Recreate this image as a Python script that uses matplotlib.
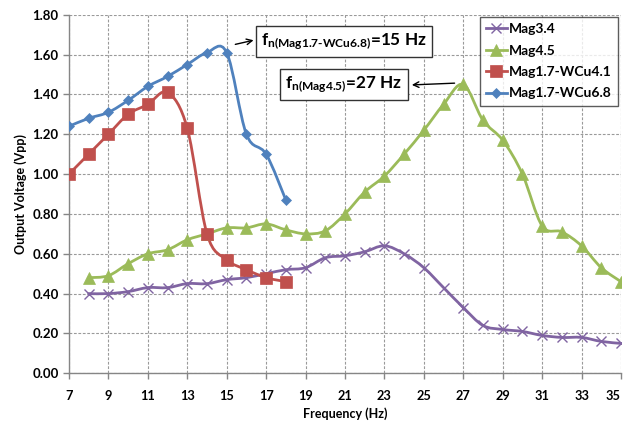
import numpy as np
import matplotlib
matplotlib.use("Agg")
import matplotlib.pyplot as plt
from matplotlib.path import Path
from matplotlib.patches import PathPatch
from matplotlib.lines import Line2D

plt.rcParams['font.family'] = ['Lato', 'DejaVu Sans']
plt.rcParams['font.weight'] = 'bold'
plt.rcParams['mathtext.fontset'] = 'custom'
plt.rcParams['mathtext.rm'] = 'Lato:bold'
plt.rcParams['mathtext.it'] = 'Lato:bold'
plt.rcParams['mathtext.bf'] = 'Lato:bold'

# ---- data ----
freq_mag34 = list(range(8, 36))
mag34 = [0.40, 0.40, 0.41, 0.43, 0.43, 0.45, 0.45, 0.47, 0.48, 0.50, 0.52,
         0.53, 0.58, 0.59, 0.61, 0.64, 0.60, 0.53, 0.43, 0.33, 0.24, 0.22,
         0.21, 0.19, 0.18, 0.18, 0.16, 0.15]
freq_mag45 = list(range(8, 36))
mag45 = [0.48, 0.49, 0.55, 0.60, 0.62, 0.67, 0.70, 0.73, 0.73, 0.75, 0.72,
         0.70, 0.715, 0.80, 0.91, 0.99, 1.10, 1.22, 1.35, 1.45, 1.27, 1.17,
         1.00, 0.74, 0.71, 0.64, 0.53, 0.46]
freq_wcu41 = list(range(7, 19))
wcu41 = [1.00, 1.10, 1.20, 1.30, 1.35, 1.41, 1.23, 0.70, 0.57, 0.52, 0.48, 0.46]
freq_wcu68 = list(range(7, 19))
wcu68 = [1.24, 1.28, 1.31, 1.37, 1.44, 1.49, 1.55, 1.61, 1.61, 1.20, 1.10, 0.87]

series = [
    ("Mag3.4", freq_mag34, mag34, "#8064A2", "x", 7.5, 1.0),
    ("Mag4.5", freq_mag45, mag45, "#9BBB59", "^", 8, 0),
    ("Mag1.7-WCu4.1", freq_wcu41, wcu41, "#C0504D", "s", 8, 0),
    ("Mag1.7-WCu6.8", freq_wcu68, wcu68, "#4F81BD", "D", 5.5, 0),
]

xticks = list(range(7, 36, 2))
yticks = [0.0, 0.2, 0.4, 0.6, 0.8, 1.0, 1.2, 1.4, 1.6, 1.8]


def smooth_path(x, y):
    p = np.column_stack([x, y]).astype(float)
    n = len(p)
    verts = [p[0]]
    codes = [Path.MOVETO]
    for i in range(n - 1):
        p0 = p[i - 1] if i > 0 else p[i]
        p1 = p[i]
        p2 = p[i + 1]
        p3 = p[i + 2] if i + 2 < n else p[i + 1]
        c1 = p1 + (p2 - p0) / 6.0
        c2 = p2 - (p3 - p1) / 6.0
        verts += [c1, c2, p2]
        codes += [Path.CURVE4] * 3
    return Path(verts, codes)


fig = plt.figure(figsize=(6.27, 4.24), dpi=100)
ax = fig.add_axes([0.110, 0.1196, 0.8804, 0.8457])

handles = []
for name, xs, ys, col, mk, ms, mew in series:
    patch = PathPatch(smooth_path(xs, ys), facecolor='none', edgecolor=col,
                      lw=2.0, zorder=3, capstyle='round', joinstyle='round')
    ax.add_patch(patch)
    ax.plot(xs, ys, linestyle='none', marker=mk, ms=ms, color=col,
            mec=col, mew=(mew if mk == 'x' else 0.5), zorder=4)
    handles.append(Line2D([], [], color=col, lw=2.0, marker=mk, ms=ms,
                          mew=(mew if mk == 'x' else 0.5), mec=col))

ax.set_xlim(7, 35)
ax.set_ylim(0, 1.8)
ax.set_xticks(xticks)
ax.set_xticklabels([str(t) for t in xticks])
ax.set_yticks(yticks)
ax.set_yticklabels([f"{t:.2f}" for t in yticks])
ax.grid(True, color='#9a9a9a', linestyle=(0, (2.5, 1.5)), linewidth=0.8)
ax.set_axisbelow(True)
for s in ['top', 'right']:
    ax.spines[s].set_visible(False)
for s in ['left', 'bottom']:
    ax.spines[s].set_color('#868686')
    ax.spines[s].set_linewidth(1.0)
ax.tick_params(axis='both', colors='#868686', length=4, width=1.0,
               labelcolor='black', labelsize=9.5)
ax.tick_params(axis='x', pad=8, labelsize=9.2)
ax.set_xlabel("Frequency (Hz)", fontsize=9, fontweight='bold', labelpad=4)
ax.set_ylabel("Output Voltage (Vpp)", fontsize=9, fontweight='bold', labelpad=4)
# keep the last x tick label inside the figure edge
ax.get_xticklabels()[-1].set_horizontalalignment('right')
ax.get_xticklabels()[-1].set_x(35.35)

leg = ax.legend(handles, [s[0] for s in series], loc='upper right',
                bbox_to_anchor=(0.994, 0.994), frameon=True, fancybox=False,
                prop={'weight': 'bold', 'size': 10}, handlelength=1.5,
                handletextpad=0.15, borderpad=0.45, labelspacing=0.68,
                borderaxespad=0)
leg.get_frame().set_edgecolor('#333333')
leg.get_frame().set_linewidth(1.0)

bbox = dict(boxstyle='square,pad=0.3', facecolor='white',
            edgecolor='#333333', linewidth=1.0)
ax.text(20.95, 1.665, r"f$_{\mathrm{n(Mag1.7\text{-}WCu6.8)}}$=15 Hz",
        fontsize=12.3, fontweight='bold', ha='center', va='center', bbox=bbox,
        zorder=6)
ax.text(20.95, 1.45, r"f$_{\mathrm{n(Mag4.5)}}$=27 Hz",
        fontsize=12.3, fontweight='bold', ha='center', va='center', bbox=bbox,
        zorder=6)
ax.annotate("", xy=(16.5, 1.675), xytext=(15.3, 1.648),
            arrowprops=dict(arrowstyle='->', color='black', lw=1.0), zorder=6)
ax.annotate("", xy=(24.25, 1.447), xytext=(26.7, 1.457),
            arrowprops=dict(arrowstyle='->', color='black', lw=1.0), zorder=6)

fig.savefig("out.png", dpi=100)
